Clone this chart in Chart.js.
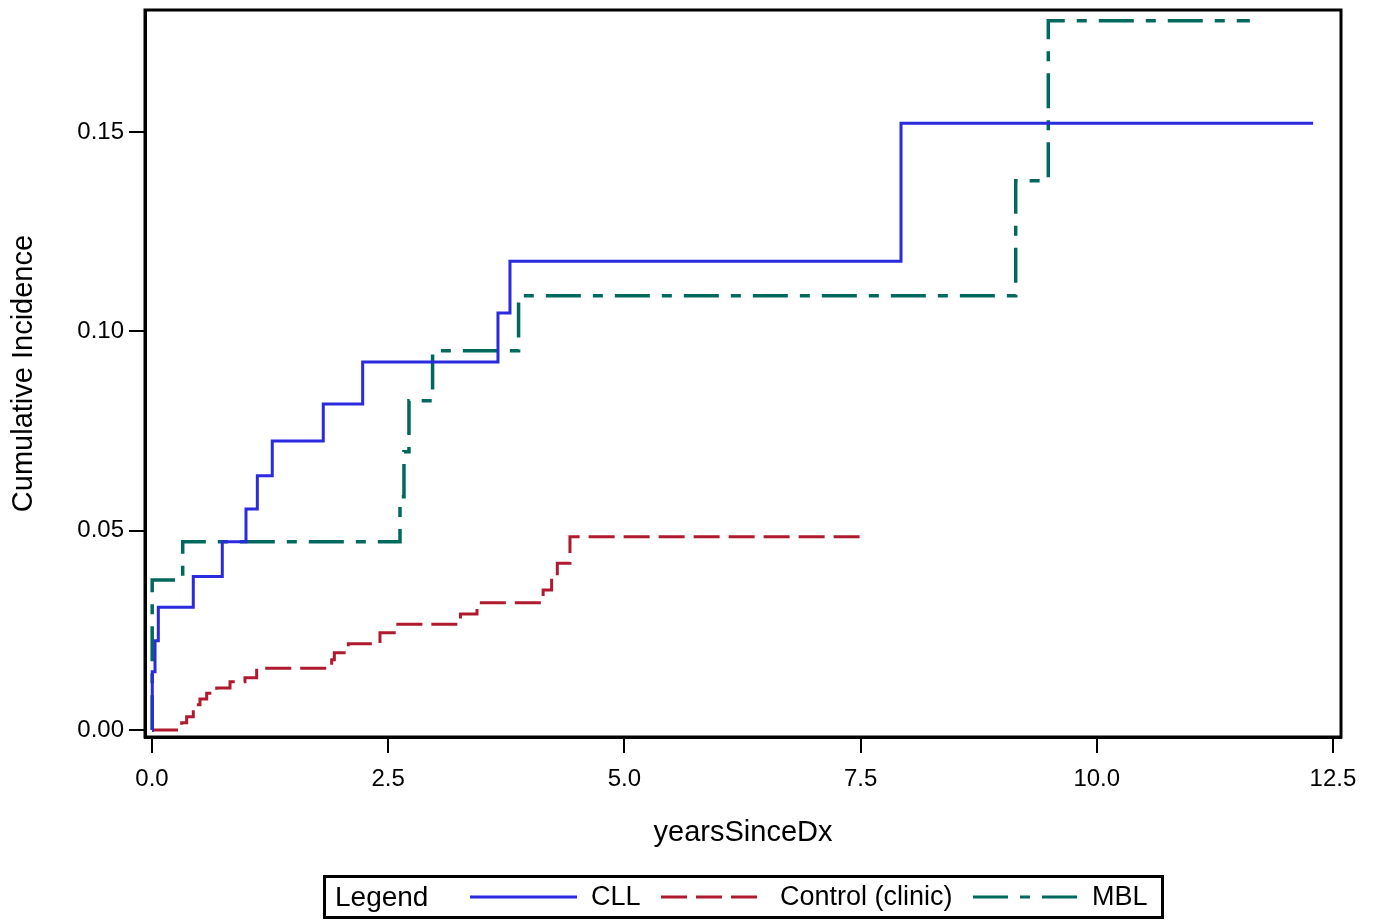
<!DOCTYPE html>
<html>
<head>
<meta charset="utf-8">
<script src="https://cdn.jsdelivr.net/npm/chart.js@4/dist/chart.umd.min.js"></script>
<style>
  html, body { margin: 0; padding: 0; background: #ffffff; }
  canvas { display: block; }
</style>
</head>
<body>
<canvas id="c" width="1376" height="922"></canvas>
<script>
// ---- data ----
const cllYears = [0, 0.003, 0.032, 0.067, 0.437, 0.744, 0.995, 1.115, 1.273, 1.813, 2.230, 3.662, 3.789, 7.928, 12.29];
const cllInc   = [0, 0.0146, 0.0224, 0.0308, 0.0385, 0.0472, 0.0554, 0.0638, 0.0725, 0.0818, 0.0923, 0.1046, 0.1176, 0.1522, 0.1522];

const controlYears = [0, 0.314, 0.367, 0.437, 0.508, 0.579, 0.685, 0.826, 0.984, 1.108, 1.902, 1.930, 2.078, 2.413, 2.583, 3.265, 3.440, 4.140, 4.230, 4.290, 4.424, 7.49];
const controlInc   = [0, 0.0018, 0.0033, 0.0063, 0.0078, 0.0092, 0.0105, 0.0121, 0.0131, 0.0155, 0.0176, 0.0194, 0.0216, 0.0244, 0.0265, 0.0291, 0.0319, 0.0351, 0.0385, 0.0418, 0.0485, 0.0485];

const mblYears = [0, 0.002, 0.325, 2.625, 2.667, 2.720, 2.970, 3.880, 9.142, 9.487, 11.62];
const mblInc   = [0, 0.0376, 0.0472, 0.0585, 0.0698, 0.0826, 0.0951, 0.1089, 0.1378, 0.1779, 0.1779];

const xTickValues = [0, 2.5, 5, 7.5, 10, 12.5];
const yTickValues = [0, 0.05, 0.10, 0.15];

const seriesNames = ['CLL', 'Control (clinic)', 'MBL'];
const legendTitle = 'Legend';
const xTitle = 'yearsSinceDx';
const yTitle = 'Cumulative Incidence';

// ---- styles ----
const FONT = '"Liberation Sans", Arial, Helvetica, sans-serif';
const colors = ['rgb(42,42,222)', 'rgb(176,26,46)', 'rgb(0,104,92)'];
const dashes = [[], [26, 9], [35, 12, 10, 12]];
const widths = [3, 3, 3.5];

function pts(xs, ys) { return xs.map((x, i) => ({ x: x, y: ys[i] })); }

const datasets = [
  { label: seriesNames[0], data: pts(cllYears, cllInc) },
  { label: seriesNames[1], data: pts(controlYears, controlInc) },
  { label: seriesNames[2], data: pts(mblYears, mblInc) }
].map((d, i) => Object.assign(d, {
  borderColor: colors[i],
  backgroundColor: colors[i],
  borderDash: dashes[i],
  borderWidth: widths[i],
  borderJoinStyle: 'miter',
  borderCapStyle: 'butt',
  pointRadius: 0,
  pointHoverRadius: 0,
  fill: false,
  tension: 0,
  stepped: 'before'
}));

const framePlugin = {
  id: 'frame',
  afterDatasetsDraw(chart) {
    const a = chart.chartArea, ctx = chart.ctx;
    ctx.save();
    ctx.strokeStyle = '#000';
    ctx.lineWidth = 3;
    ctx.strokeRect(a.left, a.top, a.right - a.left, a.bottom - a.top);
    ctx.restore();
  }
};

const legendPlugin = {
  id: 'customLegend',
  afterDraw(chart) {
    const ctx = chart.ctx;
    ctx.save();
    ctx.strokeStyle = '#000';
    ctx.lineWidth = 3;
    ctx.strokeRect(324.5, 876.5, 838, 41);
    ctx.fillStyle = '#000';
    ctx.textBaseline = 'middle';
    ctx.textAlign = 'left';
    const cy = 898;
    ctx.font = '28px ' + FONT;
    ctx.fillText(legendTitle, 335, cy);
    ctx.font = '27px ' + FONT;
    const samples = [[470, 577, 591], [661, 757, 780], [973, 1077, 1092]];
    chart.data.datasets.forEach((ds, i) => {
      const s = samples[i];
      ctx.beginPath();
      ctx.setLineDash(ds.borderDash || []);
      ctx.strokeStyle = ds.borderColor;
      ctx.lineWidth = 3;
      ctx.moveTo(s[0], cy - 1);
      ctx.lineTo(s[1], cy - 1);
      ctx.stroke();
      ctx.setLineDash([]);
      ctx.fillText(ds.label, s[2], cy);
    });
    ctx.restore();
  }
};

new Chart(document.getElementById('c'), {
  type: 'line',
  data: { datasets: datasets },
  options: {
    responsive: false,
    animation: false,
    devicePixelRatio: 1,
    layout: { padding: { left: 0, top: 10, right: 35, bottom: 57 } },
    plugins: { legend: { display: false }, tooltip: { enabled: false } },
    scales: {
      x: {
        type: 'linear',
        min: -0.074,
        max: 12.585,
        afterBuildTicks: s => { s.ticks = xTickValues.map(v => ({ value: v })); },
        afterFit: s => { s.height = 128; s.paddingLeft = 0; s.paddingRight = 0; },
        ticks: {
          callback: v => Number(v).toFixed(1),
          font: { family: FONT, size: 24 },
          color: '#000',
          padding: 12,
          maxRotation: 0,
          autoSkip: false
        },
        grid: { display: true, drawOnChartArea: false, drawTicks: true, tickLength: 16, color: '#000', lineWidth: 2 },
        border: { display: true, color: '#000', width: 3 },
        title: { display: true, text: xTitle, color: '#000', font: { family: FONT, size: 29 }, padding: { top: 0, bottom: 15 } }
      },
      y: {
        type: 'linear',
        min: -0.00176,
        max: 0.1806,
        afterBuildTicks: s => { s.ticks = yTickValues.map(v => ({ value: v })); },
        afterFit: s => { s.width = 145; s.paddingTop = 0; s.paddingBottom = 0; },
        ticks: {
          callback: v => Number(v).toFixed(2),
          font: { family: FONT, size: 24 },
          color: '#000',
          padding: 5,
          autoSkip: false
        },
        grid: { display: true, drawOnChartArea: false, drawTicks: true, tickLength: 16, color: '#000', lineWidth: 2 },
        border: { display: true, color: '#000', width: 3 },
        title: { display: true, text: yTitle, color: '#000', font: { family: FONT, size: 29 }, padding: { top: 7, bottom: 0 } }
      }
    }
  },
  plugins: [framePlugin, legendPlugin]
});
</script>
</body>
</html>
